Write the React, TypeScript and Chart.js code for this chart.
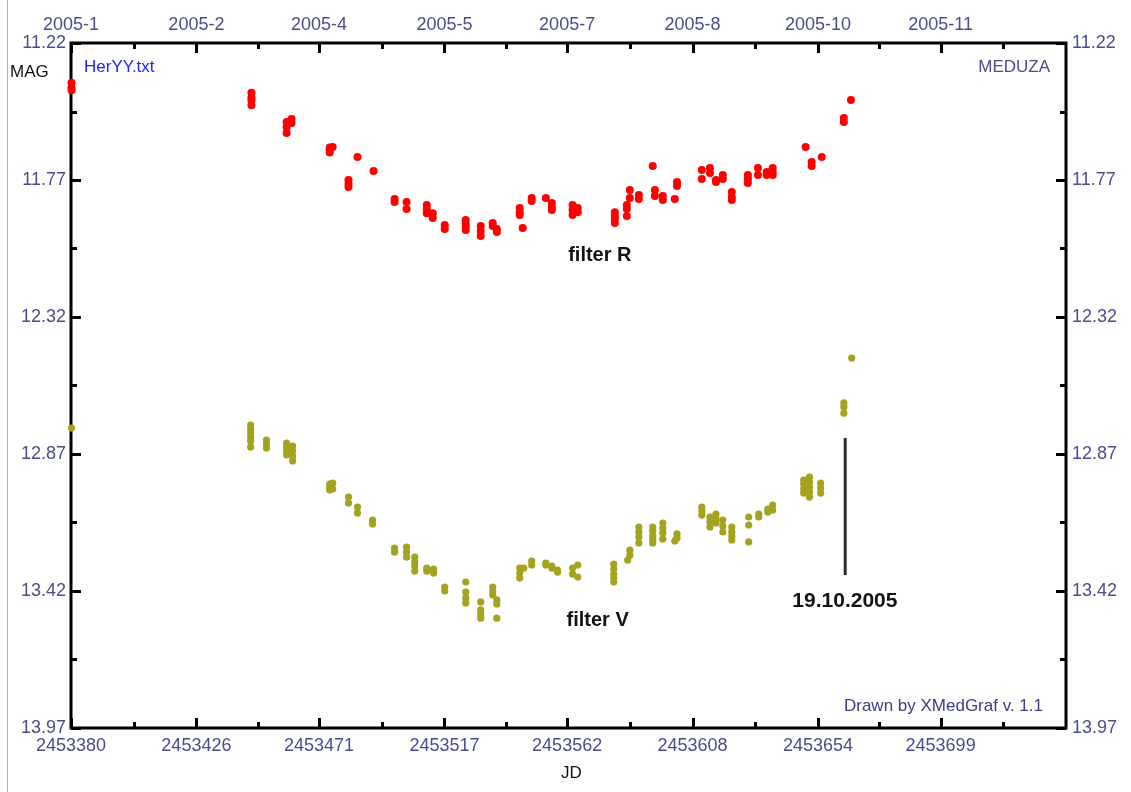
import { useEffect, useRef } from "react";
import { Chart, registerables } from "chart.js";

Chart.register(...registerables);

// ---- axes ----
const JD_MIN = 2453380;
const JD_MAX = 2453745;
const MAG_MIN = 11.22;
const MAG_MAX = 13.97;
const jdTicks = [2453380, 2453426, 2453471, 2453517, 2453562, 2453608, 2453654, 2453699];
const monthLabels = ["2005-1", "2005-2", "2005-4", "2005-5", "2005-7", "2005-8", "2005-10", "2005-11"];
const magTicks = [11.22, 11.77, 12.32, 12.87, 13.42, 13.97];

// ---- filter R: observation nights (JD) and magnitudes measured that night ----
const rNights = [
  2453380.2, 2453446.2, 2453459.1, 2453460.9, 2453474.9, 2453476.0, 2453481.8, 2453485.1,
  2453491.0, 2453498.7, 2453503.1, 2453510.5, 2453512.7, 2453517.1, 2453524.8, 2453530.3,
  2453534.7, 2453536.2, 2453544.6, 2453545.7, 2453549.0, 2453554.2, 2453556.4, 2453564.0,
  2453565.9, 2453579.5, 2453583.9, 2453585.0, 2453588.3, 2453593.4, 2453594.2, 2453597.1,
  2453601.5, 2453602.3, 2453611.4, 2453614.4, 2453616.6, 2453619.1, 2453622.4, 2453628.3,
  2453632.0, 2453635.2, 2453637.4, 2453649.5, 2453651.7, 2453655.4, 2453663.5, 2453666.1,
];
const rMags = [
  [11.38, 11.40, 11.41], [11.42, 11.44, 11.45, 11.47], [11.537, 11.557, 11.581], [11.525, 11.541],
  [11.64, 11.65, 11.66], [11.638], [11.770, 11.786, 11.798], [11.678],
  [11.734], [11.846, 11.858], [11.858, 11.886], [11.870, 11.886, 11.903],
  [11.903, 11.923], [11.951, 11.967], [11.931, 11.947, 11.959, 11.971], [11.955, 11.975, 11.995],
  [11.943, 11.955], [11.967, 11.979], [11.882, 11.899, 11.911], [11.963],
  [11.842, 11.854], [11.842], [11.862, 11.878, 11.890], [11.870, 11.890, 11.911],
  [11.882, 11.899], [11.899, 11.915, 11.927, 11.943], [11.870, 11.886, 11.915], [11.810, 11.842],
  [11.830, 11.846], [11.714], [11.810, 11.834], [11.834, 11.850],
  [11.846], [11.778, 11.794], [11.730, 11.766], [11.722, 11.742],
  [11.770, 11.778], [11.750, 11.766], [11.818, 11.838, 11.850], [11.750, 11.766, 11.782],
  [11.722, 11.750], [11.738, 11.750], [11.722, 11.738, 11.750], [11.638],
  [11.698, 11.714], [11.678], [11.521, 11.537], [11.449],
];

// ---- filter V ----
const vNights = [
  2453380.2, 2453445.9, 2453451.7, 2453459.1, 2453461.3, 2453474.9, 2453476.0, 2453481.8,
  2453485.1, 2453490.6, 2453498.7, 2453503.1, 2453506.1, 2453510.5, 2453513.0, 2453517.1,
  2453524.8, 2453530.3, 2453534.7, 2453536.2, 2453544.6, 2453546.1, 2453549.0, 2453554.2,
  2453556.4, 2453558.5, 2453564.0, 2453565.9, 2453579.1, 2453584.2, 2453585.0, 2453588.3,
  2453593.4, 2453597.1, 2453601.5, 2453602.3, 2453611.4, 2453614.4, 2453616.6, 2453619.1,
  2453622.4, 2453628.6, 2453632.3, 2453635.6, 2453637.4, 2453648.8, 2453650.9, 2453655.0,
  2453663.5, 2453666.4,
];
const vMags = [
  [12.766], [12.754, 12.770, 12.786, 12.802, 12.818, 12.842], [12.814, 12.830, 12.846], [12.826, 12.842, 12.858, 12.874],
  [12.838, 12.858, 12.878, 12.898], [12.991, 13.003, 13.015], [12.987, 13.011], [13.043, 13.067],
  [13.083, 13.107], [13.135, 13.151], [13.248, 13.264], [13.244, 13.264, 13.284],
  [13.284, 13.304, 13.320, 13.340], [13.328, 13.340], [13.332, 13.348], [13.404, 13.420],
  [13.384, 13.424, 13.448, 13.468], [13.464, 13.496, 13.512, 13.529], [13.404, 13.420, 13.436], [13.456, 13.472, 13.529],
  [13.328, 13.348, 13.368], [13.328], [13.300, 13.316], [13.308, 13.316],
  [13.320, 13.328], [13.336, 13.344], [13.328, 13.352], [13.316, 13.364],
  [13.312, 13.332, 13.352, 13.368, 13.384], [13.296], [13.256, 13.276], [13.163, 13.183, 13.203, 13.227],
  [13.163, 13.179, 13.199, 13.215, 13.227], [13.147, 13.167, 13.187, 13.211], [13.219], [13.191, 13.207],
  [13.083, 13.099, 13.115], [13.123, 13.143, 13.163], [13.111, 13.131, 13.147], [13.135, 13.159, 13.183],
  [13.163, 13.183, 13.199, 13.215], [13.123, 13.155, 13.223], [13.111, 13.123], [13.091, 13.103],
  [13.075, 13.095], [12.975, 12.991, 13.011, 13.027], [12.963, 12.983, 13.003, 13.023, 13.043], [12.987, 13.007, 13.027],
  [12.665, 12.681, 12.706], [12.485],
];

// ---- annotations (data coordinates) ----
const markerJD = 2453664;
const markerMag = [12.806, 13.356];
const markerText = "19.10.2005";
const markerTextPos = [2453663.9, 13.46];
const filterRText = "filter R";
const filterRPos = [2453574.0, 12.075];
const filterVText = "filter V";
const filterVPos = [2453573.2, 13.537];

const TICK_COLOR = "#4c4c8c";
const FONT = "'Liberation Sans', Arial, sans-serif";

function toPoints(nights: number[], mags: number[][]) {
  const pts: { x: number; y: number }[] = [];
  nights.forEach((jd, i) => mags[i].forEach((m) => pts.push({ x: jd, y: m })));
  return pts;
}

function midpoints(arr: number[]) {
  const out: number[] = [];
  for (let i = 0; i < arr.length - 1; i++) out.push((arr[i] + arr[i + 1]) / 2);
  return out;
}

const framePlugin = {
  id: "frame",
  beforeDraw(chart: any) {
    const ctx = chart.ctx;
    ctx.save();
    ctx.strokeStyle = "#b4b4b4";
    ctx.lineWidth = 1;
    ctx.beginPath();
    ctx.moveTo(7.5, 0);
    ctx.lineTo(7.5, chart.height);
    ctx.stroke();
    ctx.restore();
  },
  beforeDatasetsDraw(chart: any) {
    const { ctx, chartArea: a, scales } = chart;
    const xs = scales.x;
    const ys = scales.y;
    ctx.save();
    ctx.strokeStyle = "#000";
    ctx.lineWidth = 3;
    ctx.strokeRect(a.left, a.top, a.right - a.left, a.bottom - a.top);
    const xMinor = midpoints(jdTicks);
    xMinor.push(jdTicks[jdTicks.length - 1] + (jdTicks[1] - jdTicks[0]) / 2);
    const yMinor = midpoints(magTicks);
    ctx.beginPath();
    const vTick = (v: number, len: number) => {
      const p = Math.round(xs.getPixelForValue(v)) + 0.5;
      ctx.moveTo(p, a.bottom);
      ctx.lineTo(p, a.bottom - len);
      ctx.moveTo(p, a.top);
      ctx.lineTo(p, a.top + len);
    };
    const hTick = (v: number, len: number) => {
      const p = Math.round(ys.getPixelForValue(v)) + 0.5;
      ctx.moveTo(a.left, p);
      ctx.lineTo(a.left + len, p);
      ctx.moveTo(a.right, p);
      ctx.lineTo(a.right - len, p);
    };
    jdTicks.forEach((v) => vTick(v, 10));
    xMinor.forEach((v) => vTick(v, 6));
    magTicks.forEach((v) => hTick(v, 10));
    yMinor.forEach((v) => hTick(v, 6));
    ctx.stroke();
    ctx.restore();
  },
  afterDatasetsDraw(chart: any) {
    const { ctx, chartArea: a, scales } = chart;
    const xs = scales.x;
    const ys = scales.y;
    ctx.save();
    // marker line
    ctx.strokeStyle = "#2a2a2a";
    ctx.lineWidth = 3;
    ctx.beginPath();
    const mx = xs.getPixelForValue(markerJD);
    ctx.moveTo(mx, ys.getPixelForValue(markerMag[0]));
    ctx.lineTo(mx, ys.getPixelForValue(markerMag[1]));
    ctx.stroke();

    ctx.textBaseline = "middle";
    // bold annotations
    ctx.fillStyle = "#141414";
    ctx.textAlign = "center";
    ctx.font = `bold 20px ${FONT}`;
    ctx.fillText(filterRText, xs.getPixelForValue(filterRPos[0]), ys.getPixelForValue(filterRPos[1]));
    ctx.fillText(filterVText, xs.getPixelForValue(filterVPos[0]), ys.getPixelForValue(filterVPos[1]));
    ctx.font = `bold 21px ${FONT}`;
    ctx.fillText(markerText, xs.getPixelForValue(markerTextPos[0]), ys.getPixelForValue(markerTextPos[1]));

    // corner texts
    ctx.font = `17px ${FONT}`;
    ctx.textAlign = "left";
    ctx.fillStyle = "#2424ff";
    ctx.fillText("HerYY.txt", a.left + 13, a.top + 24);
    ctx.textAlign = "right";
    ctx.fillStyle = "#4c4c8c";
    ctx.fillText("MEDUZA", a.right - 16, a.top + 24);
    ctx.fillStyle = "#3c3c88";
    ctx.fillText("Drawn by XMedGraf v. 1.1", a.right - 23, a.bottom - 22);

    // axis titles
    ctx.fillStyle = "#111";
    ctx.textAlign = "left";
    ctx.font = `17px ${FONT}`;
    ctx.fillText("MAG", 10, a.top + 29);
    ctx.textAlign = "center";
    ctx.fillText("JD", (a.left + a.right) / 2 + 3, a.bottom + 45);
    ctx.restore();
  },
};

export default function App() {
  const ref = useRef<HTMLCanvasElement | null>(null);

  useEffect(() => {
    if (!ref.current) return;
    const tickFont = { family: FONT, size: 18 };
    const xTicks = (s: any) => {
      s.ticks = jdTicks.map((v) => ({ value: v }));
    };
    const yTicks = (s: any) => {
      s.ticks = magTicks.map((v) => ({ value: v }));
    };
    const noGrid = { display: false, drawTicks: false, tickLength: 0 };
    const chart = new Chart(ref.current, {
      type: "scatter",
      data: {
        datasets: [
          {
            label: "filter R",
            data: toPoints(rNights, rMags),
            backgroundColor: "#ff0000",
            borderWidth: 0,
            pointRadius: 4,
            clip: false as any,
            xAxisID: "x",
            yAxisID: "y",
          },
          {
            label: "filter V",
            data: toPoints(vNights, vMags),
            backgroundColor: "#a3a31f",
            borderWidth: 0,
            pointRadius: 3.6,
            clip: false as any,
            xAxisID: "x",
            yAxisID: "y",
          },
        ],
      },
      options: {
        animation: false,
        responsive: true,
        maintainAspectRatio: false,
        devicePixelRatio: 1,
        layout: { padding: 0 },
        plugins: { legend: { display: false }, tooltip: { enabled: false } },
        scales: {
          x: {
            type: "linear",
            position: "bottom",
            min: JD_MIN,
            max: JD_MAX,
            afterBuildTicks: xTicks,
            afterFit: (s: any) => {
              s.height = 64;
            },
            grid: noGrid,
            border: { display: false },
            ticks: {
              color: TICK_COLOR,
              font: tickFont,
              padding: 7,
              maxRotation: 0,
              autoSkip: false,
              callback: (v: any) => String(v),
            },
          },
          x2: {
            type: "linear",
            position: "top",
            min: JD_MIN,
            max: JD_MAX,
            afterBuildTicks: xTicks,
            afterFit: (s: any) => {
              s.height = 43;
            },
            grid: noGrid,
            border: { display: false },
            ticks: {
              color: TICK_COLOR,
              font: tickFont,
              padding: 7,
              maxRotation: 0,
              autoSkip: false,
              callback: (_v: any, i: number) => monthLabels[i],
            },
          },
          y: {
            type: "linear",
            position: "left",
            reverse: true,
            min: MAG_MIN,
            max: MAG_MAX,
            afterBuildTicks: yTicks,
            afterFit: (s: any) => {
              s.width = 71;
            },
            grid: noGrid,
            border: { display: false },
            ticks: {
              color: TICK_COLOR,
              font: tickFont,
              padding: 5,
              autoSkip: false,
              callback: (v: any) => Number(v).toFixed(2),
            },
          },
          y2: {
            type: "linear",
            position: "right",
            reverse: true,
            min: MAG_MIN,
            max: MAG_MAX,
            afterBuildTicks: yTicks,
            afterFit: (s: any) => {
              s.width = 65;
            },
            grid: noGrid,
            border: { display: false },
            ticks: {
              color: TICK_COLOR,
              font: tickFont,
              padding: 6,
              autoSkip: false,
              callback: (v: any) => Number(v).toFixed(2),
            },
          },
        },
      } as any,
      plugins: [framePlugin],
    });
    return () => chart.destroy();
  }, []);

  return (
    <div style={{ position: "absolute", left: 0, top: 0, width: 1131, height: 792, background: "#fff" }}>
      <canvas ref={ref} />
    </div>
  );
}
